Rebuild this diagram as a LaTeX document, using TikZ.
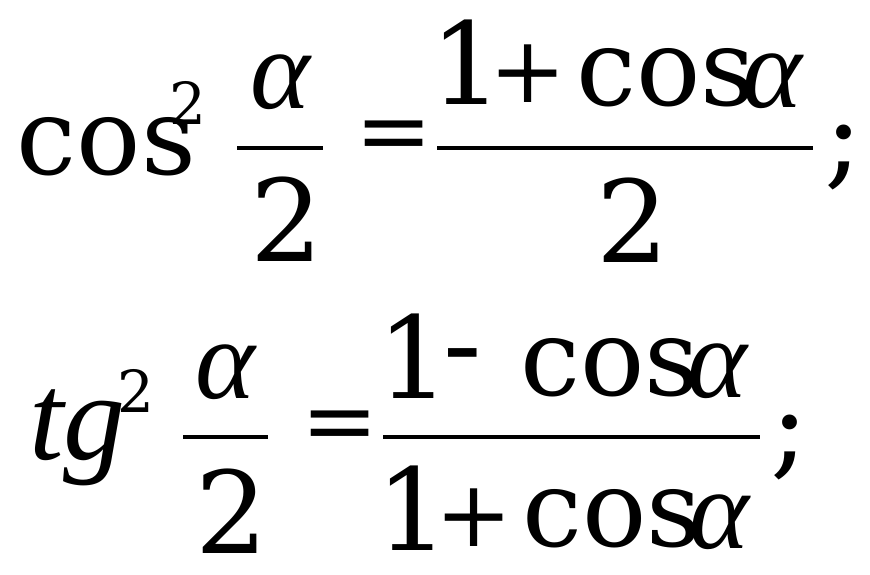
\documentclass[tikz,border=0pt]{standalone}
\usepackage{fontspec}
\setmainfont{DejaVu Serif}
\newfontfamily\tnr{Liberation Serif}
\usepackage{tikz}

\begin{document}
\begin{tikzpicture}[x=1pt,y=-1pt,
    big/.style={inner sep=0pt,font=\fontsize{114}{120}\selectfont},
    word/.style={inner sep=0pt,font=\fontsize{107}{120}\selectfont},
    op/.style={inner sep=0pt,font=\fontsize{92}{100}\selectfont},
    it/.style={inner sep=0pt,font=\fontsize{114}{120}\selectfont\tnr\itshape},
    small/.style={inner sep=0pt,font=\fontsize{58}{64}\selectfont},
    bar/.style={line width=4.5pt}]
  \useasboundingbox (0,0) rectangle (870,575);
  % first line
   \draw (106.5,147) node[word] (cos) {cos};
    \draw (188,102.5) node[small] (sq) {2};
    \draw (280,82.5) node[it] (alpha) {α};
    \draw[bar] (237,148) -- (323,148);
    \draw (286.5,219) node[big] (two) {2};
    \draw (394,141.5) node[op] (eq) {=};
  \draw (466.5,62.5) node[big] (one) {1};
  \draw (528.5,74) node[op] (plus) {+};
  \draw (666,77.5) node[word] (cosn) {cos};
  \draw (772,81) node[it] (alphan) {α};
    \draw[bar] (437,148) -- (813,148);
    \draw (632.5,220) node[big] (twod) {2};
    \draw (844,158) node[big] (semi) {;};
  % second line
   \draw (77.5,437.5) node[it,font=\fontsize{124}{130}\selectfont\tnr\itshape] (tg) {tg};
    \draw (136,391) node[small] (sqt) {2};
    \draw (225,372.5) node[it] (alphat) {α};
    \draw[bar] (183,437) -- (268,437);
    \draw (231.5,511) node[big] (twot) {2};
    \draw (340,432) node[op] (eqt) {=};
  \draw (414,356) node[big] (onen) {1};
  \draw (462.5,366) node[big] (minus) {-};
  \draw (610,367.5) node[word] (cosm) {cos};
  \draw (717,371) node[it] (alpham) {α};
    \draw[bar] (383,437) -- (760,437);
  \draw (413,508) node[big] (oned) {1};
  \draw (474,517.5) node[op] (plusd) {+};
  \draw (612,518.5) node[word] (cosd) {cos};
  \draw (719,522) node[it] (alphad) {α};
    \draw (790,448) node[big] (semit) {;};
\end{tikzpicture}
\end{document}
